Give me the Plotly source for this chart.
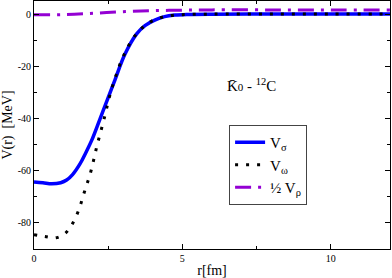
import plotly.graph_objects as go

r_sigma = [0, 0.3, 0.6, 0.9, 1.1, 1.3, 1.55, 1.75, 1.94, 2.22, 2.5, 2.73, 3.06, 3.46, 3.74, 4.07, 4.4, 4.75, 5.2, 6, 8, 10, 12]
v_sigma = [-64.3, -64.6, -65.0, -64.6, -63.6, -61.5, -57.4, -53.0, -48.5, -40.3, -32.0, -25.2, -15.5, -7.6, -4.4, -2.3, -1.0, -0.4, -0.15, -0.03, 0, 0, 0]

r_omega = [0, 0.37, 0.74, 1.05, 1.27, 1.44, 1.57, 1.67, 1.78, 1.89, 1.98, 2.06, 2.14, 2.24, 2.33, 2.42, 2.5, 2.6, 2.7, 2.82, 2.94, 3.1, 3.27, 3.48, 3.73, 4.04, 4.39, 4.75, 5.2, 6, 8, 10, 12]
v_omega = [-84.5, -85.2, -85.7, -84.0, -80.8, -77.0, -73.0, -69.2, -65.3, -61.4, -57.4, -53.5, -49.6, -45.5, -41.5, -37.6, -33.5, -29.5, -25.6, -21.8, -18.0, -14.1, -10.5, -7.2, -4.5, -2.3, -1.0, -0.4, -0.15, -0.03, 0, 0, 0]

r_rho = [0, 1, 2, 3, 4, 5, 6, 8, 10, 12]
v_rho = [-0.3, -0.2, 0.3, 0.9, 1.3, 1.5, 1.6, 1.6, 1.6, 1.6]

x_ticks = [0, 5, 10]
y_ticks = [0, -20, -40, -60, -80]

font_family = "Liberation Serif"

fig = go.Figure()
fig.add_trace(go.Scatter(x=r_sigma, y=v_sigma, mode="lines", line=dict(color="#0000FF", width=3.5, shape="spline"),
                         name="V<sub>σ</sub>"))
fig.add_trace(go.Scatter(x=r_omega, y=v_omega, mode="lines", line=dict(color="black", width=3, dash="3px,8px", shape="spline"),
                         name="V<sub>ω</sub>"))
fig.add_trace(go.Scatter(x=r_rho, y=v_rho, mode="lines", line=dict(color="#9400D3", width=3, dash="16px,7px,3px,7px", shape="spline"),
                         name="½ V<sub>ρ</sub>"))

fig.add_annotation(x=7.34, y=-27, text="K̄<span style='font-size:11px'>0</span> - <sup>12</sup>C",
                   showarrow=False, font=dict(family=font_family, size=15, color="black"))

axis_common = dict(showline=True, linecolor="black", linewidth=1, mirror="allticks", ticks="inside",
                   ticklen=5, tickcolor="black", showgrid=False, zeroline=False, automargin=False,
                   tickfont=dict(family=font_family, size=10, color="black"))

fig.update_xaxes(range=[0, 12], tickvals=x_ticks, ticktext=[str(v) for v in x_ticks],
                 minor=dict(ticks="inside", ticklen=3, dtick=2.5, tick0=0, tickcolor="black"),
                 title=dict(text="r[fm]", font=dict(family=font_family, size=14, color="black"), standoff=2),
                 **axis_common)
fig.update_yaxes(range=[-90, 5], tickvals=y_ticks, ticktext=[str(v) for v in y_ticks],
                 minor=dict(ticks="inside", ticklen=3, dtick=10, tick0=0, tickcolor="black"),
                 title=dict(text="V(r)  [MeV]", font=dict(family=font_family, size=14, color="black"), standoff=4),
                 **axis_common)

fig.update_layout(
    width=392, height=278,
    margin=dict(l=34, r=2, t=1, b=29),
    paper_bgcolor="white", plot_bgcolor="white",
    showlegend=True,
    legend=dict(x=0.548, y=0.5, xanchor="left", yanchor="top", bgcolor="white",
                bordercolor="#444", borderwidth=1,
                font=dict(family=font_family, size=15, color="black"),
                tracegroupgap=0, itemwidth=30),
)

fig.write_html("out.html", config={"displayModeBar": False},
               post_script="document.body.style.margin='0';document.body.style.padding='0';")
